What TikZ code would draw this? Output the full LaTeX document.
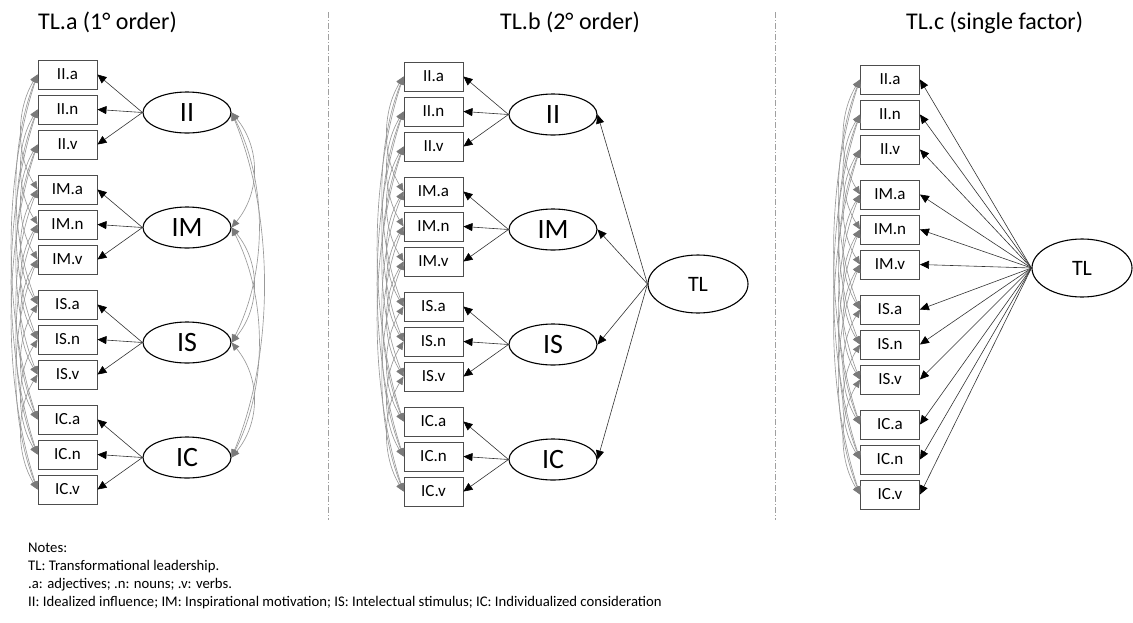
\documentclass[tikz,border=0pt]{standalone}
\usepackage{fontspec}
\setmainfont{Carlito}
\usetikzlibrary{arrows.meta,shapes.geometric}

\definecolor{boxgray}{HTML}{4D4D4D}
\definecolor{covline}{HTML}{999999}
\definecolor{covtip}{HTML}{7A7A7A}
\definecolor{divgray}{HTML}{A0A0A0}

\tikzset{
  ind/.style={draw=boxgray, line width=0.9pt, fill=white, minimum width=59pt,
    minimum height=29pt, inner sep=0pt, font=\fontsize{17}{17}\selectfont},
  lat/.style={draw=black, line width=1.1pt, ellipse, minimum width=88pt,
    minimum height=41pt, inner sep=0pt, font=\fontsize{28}{28}\selectfont},
  gen/.style={draw=black, line width=1.1pt, ellipse, minimum width=100pt,
    minimum height=58pt, inner sep=0pt, font=\fontsize{22}{22}\selectfont},
  load/.style={draw=black!80, line width=0.6pt, -{Triangle[length=9pt,width=8pt,color=black]}},
  cov/.style={draw=covline, line width=0.65pt,
    {Triangle[length=8pt,width=7pt,color=covtip]}-{Triangle[length=8pt,width=7pt,color=covtip]}},
  divider/.style={draw=divgray, line width=0.6pt, dash pattern=on 6pt off 2pt on 1pt off 2pt},
  title/.style={anchor=base west, inner sep=0pt, font=\fontsize{24}{24}\selectfont},
  note/.style={anchor=base west, inner sep=0pt, font=\fontsize{14.7}{14.7}\selectfont},
}

\begin{document}
\begin{tikzpicture}[x=1pt,y=-1pt]
\useasboundingbox (0,0) rectangle (1133,622);

% panel titles and dividers
\node[title] (tA) at (38,29) {TL.a (1° order)};
\node[title] (tB) at (500,29) {TL.b (2° order)};
\node[title] (tC) at (906,29) {TL.c (single factor)};
\coordinate (d1t) at (328,12); \coordinate (d1b) at (328,520);
\coordinate (d2t) at (775,12); \coordinate (d2b) at (775,520);
\draw[divider] (d1t) -- (d1b);
\draw[divider] (d2t) -- (d2b);

% indicators: x centre / vertical offset per panel
\foreach \p/\xc/\dy in {A/67.5/0, B/433.5/2, C/890/5} {
  \foreach \f [count=\fn from 0] in {II,IM,IS,IC} {
    \foreach \m [count=\mn from 0] in {a,n,v} {
      \pgfmathsetmacro\yy{74.5+\dy+115*\fn+35*\mn}
      \node[ind] (\p-\f-\m) at (\xc,\yy) {\f.\m};
    }
  }
}

% first-order factors, panels A and B
\foreach \p/\xc/\dy in {A/187/0, B/553/2} {
  \foreach \f [count=\fn from 0] in {II,IM,IS,IC} {
    \pgfmathsetmacro\yy{74.5+\dy+115*\fn+35+3}
    \node[lat] (\p-\f) at (\xc,\yy) {\f};
    \foreach \m in {a,n,v} {
      \draw[load] (\p-\f.west) -- (\p-\f-\m.east);
    }
  }
}

% factor covariances, panel A
\foreach \ia/\ib/\kk in {II/IM/1, II/IS/2, II/IC/3, IM/IS/1, IM/IC/2, IS/IC/1} {
  \draw[cov] (A-\ia.east) .. controls +({22+7*\kk},{35*\kk}) and +({22+7*\kk},{-35*\kk}) .. (A-\ib.east);
}

% second-order factor, panel B
\node[gen] (B-TL) at (698,284) {TL};
\foreach \f in {II,IM,IS,IC} {
  \draw[load] (B-TL.west) -- (B-\f.east);
}

% single factor, panel C
\node[gen] (C-TL) at (1082,268) {TL};
\foreach \f in {II,IM,IS,IC} {
  \foreach \m in {a,n,v} {
    \draw[load] (C-TL.west) -- (C-\f-\m.east);
  }
}

% correlated uniquenesses among indicators sharing a word type
\foreach \p in {A,B,C} {
  \foreach \m in {a,n,v} {
    \foreach \ia/\ib/\kk in {II/IM/1, II/IS/2, II/IC/3, IM/IS/1, IM/IC/2, IS/IC/1} {
      \draw[cov] (\p-\ia-\m.west) .. controls +({-15-6.5*\kk},{35*\kk}) and +({-15-6.5*\kk},{-35*\kk}) .. (\p-\ib-\m.west);
    }
  }
}

% notes
\node[note] (n1) at (28,552.5) {Notes:};
\node[note] (n2) at (28,570.5) {TL: Transformational leadership.};
\node[note] (n3) at (28,588.5) {.a: adjectives; .n: nouns; .v: verbs.};
\node[note] (n4) at (28,606.5) {II: Idealized influence; IM: Inspirational motivation; IS: Intelectual stimulus; IC: Individualized consideration};
\end{tikzpicture}
\end{document}
